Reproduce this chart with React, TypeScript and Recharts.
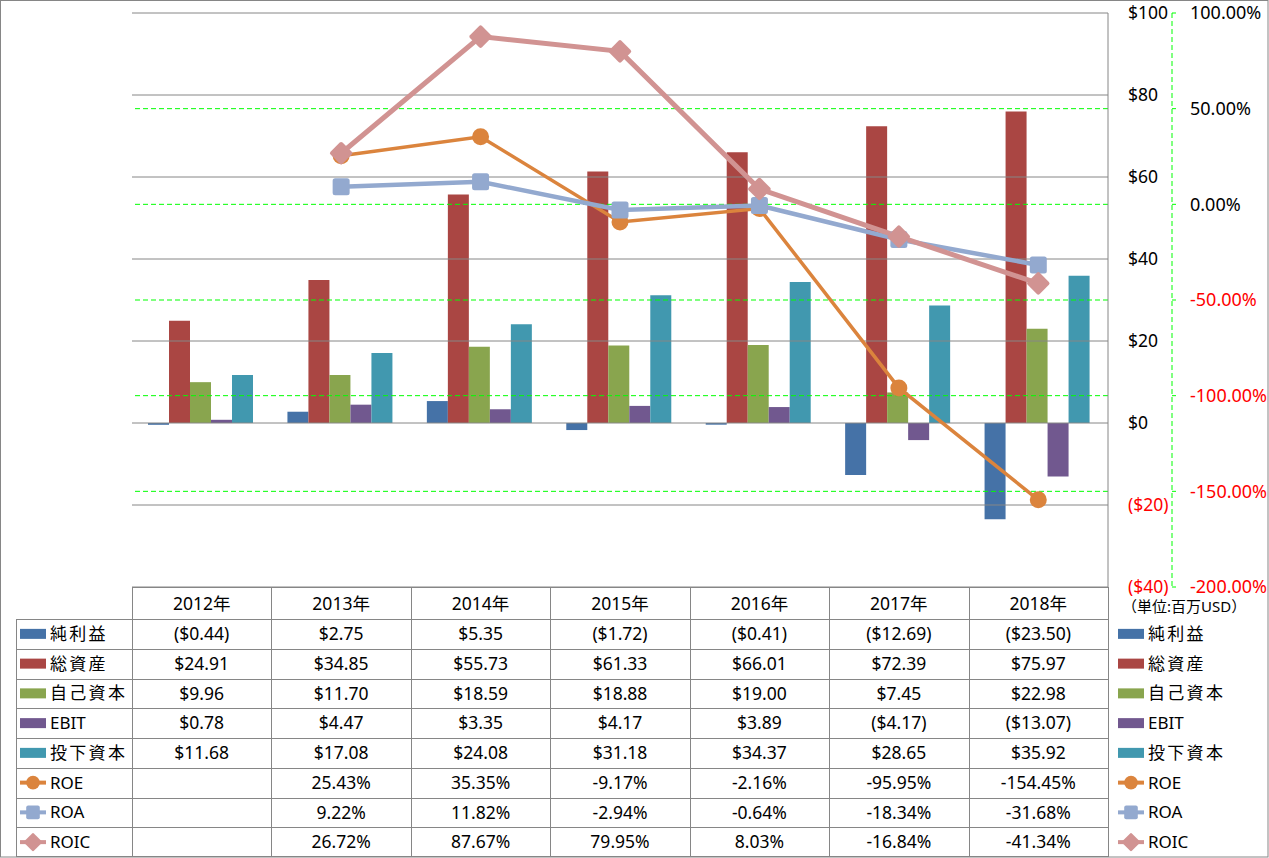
import React from 'react';
import { ComposedChart, Bar, Line, XAxis, YAxis, ReferenceLine } from 'recharts';

const categories = ['2012年', '2013年', '2014年', '2015年', '2016年', '2017年', '2018年'];
const netIncome = [-0.44, 2.75, 5.35, -1.72, -0.41, -12.69, -23.5];
const totalAssets = [24.91, 34.85, 55.73, 61.33, 66.01, 72.39, 75.97];
const equity = [9.96, 11.7, 18.59, 18.88, 19.0, 7.45, 22.98];
const ebit = [0.78, 4.47, 3.35, 4.17, 3.89, -4.17, -13.07];
const investedCapital = [11.68, 17.08, 24.08, 31.18, 34.37, 28.65, 35.92];
const roe: (number | null)[] = [null, 25.43, 35.35, -9.17, -2.16, -95.95, -154.45];
const roa: (number | null)[] = [null, 9.22, 11.82, -2.94, -0.64, -18.34, -31.68];
const roic: (number | null)[] = [null, 26.72, 87.67, 79.95, 8.03, -16.84, -41.34];
const usdTicks = [-40, -20, 0, 20, 40, 60, 80, 100];
const pctTicks = [-200, -150, -100, -50, 0, 50, 100];
const pctGridTicks = [-150, -100, -50, 0, 50];
const unitLabel = '（単位:百万USD）';

const FONT = "'Noto Sans', 'Noto Sans CJK JP', sans-serif";
const GRID = '#868686';
const GREEN = '#00FF00';
const USD = 'a_usd';
const PCT = 'b_pct';

type Series = {
  key: string;
  name: string;
  values: (number | null)[];
  color: string;
  kind: 'bar' | 'line';
  marker?: 'circle' | 'square' | 'diamond';
};

const series: Series[] = [
  { key: 'ni', name: '純利益', values: netIncome, color: '#4572A7', kind: 'bar' },
  { key: 'ta', name: '総資産', values: totalAssets, color: '#AA4643', kind: 'bar' },
  { key: 'eq', name: '自己資本', values: equity, color: '#89A54E', kind: 'bar' },
  { key: 'ebit', name: 'EBIT', values: ebit, color: '#71588F', kind: 'bar' },
  { key: 'ic', name: '投下資本', values: investedCapital, color: '#4198AF', kind: 'bar' },
  { key: 'roe', name: 'ROE', values: roe, color: '#DB843D', kind: 'line', marker: 'circle' },
  { key: 'roa', name: 'ROA', values: roa, color: '#93A9CF', kind: 'line', marker: 'square' },
  { key: 'roic', name: 'ROIC', values: roic, color: '#D19392', kind: 'line', marker: 'diamond' },
];

const data = categories.map((c, i) => {
  const row: Record<string, any> = { cat: c };
  series.forEach((s) => {
    row[s.key] = s.values[i];
  });
  return row;
});

const fmtUsd = (v: number) => (v < 0 ? `($${Math.abs(v).toFixed(2)})` : `$${v.toFixed(2)}`);
const fmtUsdTick = (v: number) => (v < 0 ? `($${Math.abs(v)})` : `$${v}`);
const fmtPct = (v: number) => `${v.toFixed(2)}%`;

const UsdTick = (props: any) => {
  const { x, y, payload } = props;
  const v = payload.value;
  return (
    <text x={x} y={y} dy="0.36em" textAnchor="start" fontSize={17.5} fontFamily={FONT} fill={v < 0 ? '#FF0000' : '#000000'}>
      {fmtUsdTick(v)}
    </text>
  );
};

const PctTick = (props: any) => {
  const { x, y, payload } = props;
  const v = payload.value;
  return (
    <text x={x} y={y} dy="0.36em" textAnchor="start" fontSize={18} fontFamily={FONT} fill={v < 0 ? '#FF0000' : '#000000'}>
      {fmtPct(v)}
    </text>
  );
};

const markerShape = (marker: string, color: string, cx: number, cy: number, scale = 1, key?: string) => {
  if (marker === 'circle') {
    return <circle key={key} cx={cx} cy={cy} r={8.5 * scale} fill={color} />;
  }
  if (marker === 'square') {
    const s = 17 * scale;
    return <rect key={key} x={cx - s / 2} y={cy - s / 2} width={s} height={s} rx={2.5 * scale} fill={color} />;
  }
  const s = 17 * scale;
  return (
    <rect
      key={key}
      x={cx - s / 2}
      y={cy - s / 2}
      width={s}
      height={s}
      rx={2 * scale}
      fill={color}
      transform={`rotate(45 ${cx} ${cy})`}
    />
  );
};

const makeDot = (marker: string, color: string) => (p: any) => {
  const key = `dot-${marker}-${p.index}`;
  if (p.cx == null || p.cy == null || p.value == null || Number.isNaN(p.cy)) return <g key={key} />;
  return markerShape(marker, color, p.cx, p.cy, 1, key);
};

const lineWidths: Record<string, number> = { roe: 3.5, roa: 4.5, roic: 5 };

// table geometry
const tableLeft = 132;
const tableRight = 1108;
const colW = (tableRight - tableLeft) / categories.length;
const headerTop = 587;
const headerBottom = 619;
const rowH = 29.75;
const legendLeft = 16;

const LegendIcon = ({ s, x, cy }: { s: Series; x: number; cy: number }) => {
  if (s.kind === 'bar') {
    return <rect x={x} y={cy - 5} width={26} height={10} fill={s.color} />;
  }
  return (
    <g>
      <line x1={x} x2={x + 26} y1={cy} y2={cy} stroke={s.color} strokeWidth={4} />
      {markerShape(s.marker!, s.color, x + 13, cy, 0.8)}
    </g>
  );
};

export default function App() {
  const rowsBottom = headerBottom + rowH * series.length;
  return (
    <div style={{ position: 'absolute', left: 0, top: 0, width: 1269, height: 858, background: '#fff' }}>
      <ComposedChart
        width={1269}
        height={858}
        data={data}
        margin={{ top: 13, right: 0, bottom: 858 - 587, left: 132 }}
        barCategoryGap={16}
        barGap={0}
      >
        <XAxis dataKey="cat" hide />
        <YAxis
          yAxisId={USD}
          orientation="right"
          domain={[-40, 100]}
          ticks={usdTicks}
          width={64}
          axisLine={{ stroke: GRID }}
          tickLine={false}
          tickSize={0}
          tickMargin={20}
          tick={<UsdTick />}
          interval={0}
        />
        <YAxis
          yAxisId={PCT}
          orientation="right"
          domain={[-200, 100]}
          ticks={pctTicks}
          width={97}
          axisLine={{ stroke: GREEN, strokeDasharray: '5 3' }}
          tickLine={{ stroke: GREEN }}
          tickSize={4}
          tickMargin={14}
          tick={<PctTick />}
          interval={0}
        />
        {usdTicks.map((t) => (
          <ReferenceLine key={`u${t}`} yAxisId={USD} y={t} stroke={GRID} strokeWidth={1} />
        ))}
        {pctGridTicks.map((t) => (
          <ReferenceLine key={`p${t}`} yAxisId={PCT} y={t} stroke={GREEN} strokeWidth={1} strokeDasharray="5 3" />
        ))}
        {series
          .filter((s) => s.kind === 'bar')
          .map((s) => (
            <Bar key={s.key} yAxisId={USD} dataKey={s.key} name={s.name} fill={s.color} isAnimationActive={false} />
          ))}
        {series
          .filter((s) => s.kind === 'line')
          .map((s) => (
            <Line
              key={s.key}
              yAxisId={PCT}
              dataKey={s.key}
              name={s.name}
              stroke={s.color}
              strokeWidth={lineWidths[s.key]}
              type="linear"
              dot={makeDot(s.marker!, s.color)}
              activeDot={false}
              isAnimationActive={false}
            />
          ))}
      </ComposedChart>
      <svg
        width={1269}
        height={858}
        style={{ position: 'absolute', left: 0, top: 0, pointerEvents: 'none' }}
        fontFamily={FONT}
      >
        {/* outer border */}
        <rect x={0.5} y={0.5} width={1267.5} height={856.5} fill="none" stroke={GRID} strokeWidth={1} />
        {/* header row */}
        <line x1={tableLeft} x2={tableRight} y1={headerTop + 0.5} y2={headerTop + 0.5} stroke={GRID} />
        {/* row lines */}
        {series.map((_, i) => {
          const y = Math.round(headerBottom + rowH * i) + 0.5;
          return <line key={`rl${i}`} x1={legendLeft} x2={tableRight} y1={y} y2={y} stroke={GRID} />;
        })}
        <line x1={legendLeft} x2={tableRight} y1={Math.round(rowsBottom) - 0.5} y2={Math.round(rowsBottom) - 0.5} stroke={GRID} />
        {/* vertical lines */}
        <line x1={legendLeft + 0.5} x2={legendLeft + 0.5} y1={headerBottom} y2={rowsBottom} stroke={GRID} />
        {categories.map((_, i) => {
          const x = Math.round(tableLeft + colW * i) + 0.5;
          return <line key={`vl${i}`} x1={x} x2={x} y1={headerTop} y2={rowsBottom} stroke={GRID} />;
        })}
        <line x1={tableRight + 0.5} x2={tableRight + 0.5} y1={headerTop} y2={rowsBottom} stroke={GRID} />
        {/* header text */}
        {categories.map((c, i) => (
          <text
            key={`h${i}`}
            x={tableLeft + colW * (i + 0.5)}
            y={(headerTop + headerBottom) / 2 + 1}
            dy="0.36em"
            textAnchor="middle"
            fontSize={17.5}
            fill="#000"
          >
            {c}
          </text>
        ))}
        {/* rows */}
        {series.map((s, r) => {
          const cy = headerBottom + rowH * (r + 0.5);
          return (
            <g key={`row${s.key}`}>
              <LegendIcon s={s} x={20} cy={cy} />
              <text x={50} y={cy} dy="0.36em" fontSize={17} fill="#000" letterSpacing={/^[A-Z]/.test(s.name) ? 0 : 2.3}>
                {s.name}
              </text>
              {s.values.map((v, i) =>
                v == null ? null : (
                  <text
                    key={`c${r}-${i}`}
                    x={tableLeft + colW * (i + 0.5)}
                    y={cy}
                    dy="0.36em"
                    textAnchor="middle"
                    fontSize={17.5}
                    fill="#000"
                  >
                    {s.kind === 'bar' ? fmtUsd(v) : fmtPct(v)}
                  </text>
                )
              )}
              <LegendIcon s={s} x={1118} cy={cy} />
              <text x={1148} y={cy} dy="0.36em" fontSize={17} fill="#000" letterSpacing={/^[A-Z]/.test(s.name) ? 0 : 2.3}>
                {s.name}
              </text>
            </g>
          );
        })}
        <text x={1122} y={607} dy="0.36em" fontSize={15} fill="#000">
          {unitLabel}
        </text>
      </svg>
    </div>
  );
}
